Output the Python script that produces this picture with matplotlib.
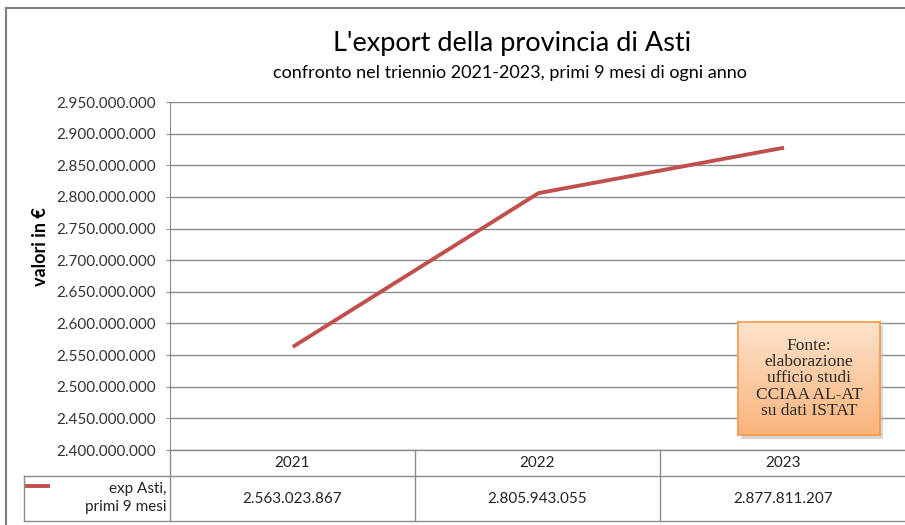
import numpy as np
import matplotlib
matplotlib.use("Agg")
import matplotlib.pyplot as plt
from matplotlib.lines import Line2D
from matplotlib.patches import Rectangle
from matplotlib.colors import LinearSegmentedColormap

# ==========================================
# Data
# ==========================================
years = ["2021", "2022", "2023"]
export_values = [2563023867, 2805943055, 2877811207]
series_label = "exp Asti,\nprimi 9 mesi"
title = "L'export della provincia di Asti"
subtitle = "confronto nel triennio 2021-2023, primi 9 mesi di ogni anno"
y_label = "valori in €"
source_note = "Fonte:\nelaborazione\nufficio studi\nCCIAA AL-AT\nsu dati ISTAT"

W, H = 905, 525
FONT = "Lato"
GRID = "#8c8c8c"
RED = "#C0504D"


def fx(px):
    return px / W


def fy(py):
    return 1 - py / H


def fmt_it(v):
    return f"{v:,.0f}".replace(",", ".")


fig = plt.figure(figsize=(W / 100, H / 100), dpi=100)

# chart frame (left + top border)
fig.add_artist(Line2D([fx(6), fx(6)], [fy(8), fy(525)], color="#7f7f7f", lw=1.5))
fig.add_artist(Line2D([fx(6), fx(905)], [fy(8), fy(8)], color="#7f7f7f", lw=1.5))

# ==========================================
# Plot area
# ==========================================
ax = fig.add_axes([fx(170), fy(450), fx(905 - 170) + 0.002, fy(102) - fy(450)])
x = np.arange(len(years)) + 0.5
ax.plot(x, export_values, color=RED, lw=2.8, solid_capstyle="butt")
ax.set_xlim(0, 3)
ax.set_ylim(2.40e9, 2.95e9)
ticks = np.arange(2.40e9, 2.95e9 + 1, 0.05e9)
ax.set_yticks(ticks)
ax.set_yticklabels([fmt_it(t) for t in ticks], fontfamily=FONT, fontsize=11, color="#333333")
ax.set_xticks([])
ax.grid(axis="y", color=GRID, lw=1)
ax.set_axisbelow(True)
for s in ["top", "right", "bottom"]:
    ax.spines[s].set_visible(False)
ax.spines["left"].set_color(GRID)
ax.tick_params(axis="y", length=3, color=GRID, pad=7)

fig.text(fx(41), fy(247), y_label, rotation=90, ha="center", va="center",
         fontfamily=FONT, fontsize=13, fontweight="bold")

fig.text(fx(512), fy(43), title, ha="center", va="center",
         fontfamily=FONT, fontsize=19.5)
fig.text(fx(510), fy(73), subtitle, ha="center", va="center",
         fontfamily=FONT, fontsize=13)

# ==========================================
# Data table under the chart
# ==========================================
col_edges = [170, 415, 660, 906]
tline = dict(color=GRID, lw=1)
fig.add_artist(Line2D([fx(170), fx(905)], [fy(450), fy(450)], **tline))
fig.add_artist(Line2D([fx(24), fx(905)], [fy(476), fy(476)], **tline))
fig.add_artist(Line2D([fx(24), fx(905)], [fy(521), fy(521)], **tline))
fig.add_artist(Line2D([fx(24), fx(24)], [fy(476), fy(521)], **tline))
for cx in col_edges[:-1]:
    fig.add_artist(Line2D([fx(cx), fx(cx)], [fy(450), fy(521)], **tline))

for i, (yr, val) in enumerate(zip(years, export_values)):
    cx = (col_edges[i] + col_edges[i + 1]) / 2
    fig.text(fx(cx), fy(463), yr, ha="center", va="center",
             fontfamily=FONT, fontsize=11, color="#222222")
    fig.text(fx(cx), fy(499), fmt_it(val), ha="center", va="center",
             fontfamily=FONT, fontsize=11, color="#222222")

fig.add_artist(Line2D([fx(27), fx(48)], [fy(486), fy(486)], color=RED, lw=2.8))
fig.text(fx(166), fy(498), series_label, ha="right", va="center",
         fontfamily=FONT, fontsize=11, color="#222222", linespacing=1.35)

# ==========================================
# Source box
# ==========================================
bx0, by0, bx1, by1 = 738, 322, 880, 435
shadow = Rectangle((fx(bx0 + 3), fy(by1 + 4)), fx(bx1 - bx0), fy(by0) - fy(by1),
                   transform=fig.transFigure, facecolor="#bbbbbb", edgecolor="none",
                   alpha=0.6, zorder=5)
fig.add_artist(shadow)
bax = fig.add_axes([fx(bx0), fy(by1), fx(bx1 - bx0), fy(by0) - fy(by1)], zorder=6)
cmap = LinearSegmentedColormap.from_list("org", ["#FDE3CC", "#F9B47C"])
grad = np.linspace(0, 1, 100).reshape(-1, 1)
bax.imshow(grad, aspect="auto", cmap=cmap, extent=[0, 1, 0, 1], origin="upper")
bax.set_xticks([])
bax.set_yticks([])
for s in bax.spines.values():
    s.set_color("#F79646")
    s.set_linewidth(1.2)
bax.text(0.5, 0.5, source_note, ha="center", va="center", transform=bax.transAxes,
         fontfamily="Liberation Serif", fontsize=12.5, color="#2a2a2a", linespacing=1.02)

fig.savefig("out.png", dpi=100)
